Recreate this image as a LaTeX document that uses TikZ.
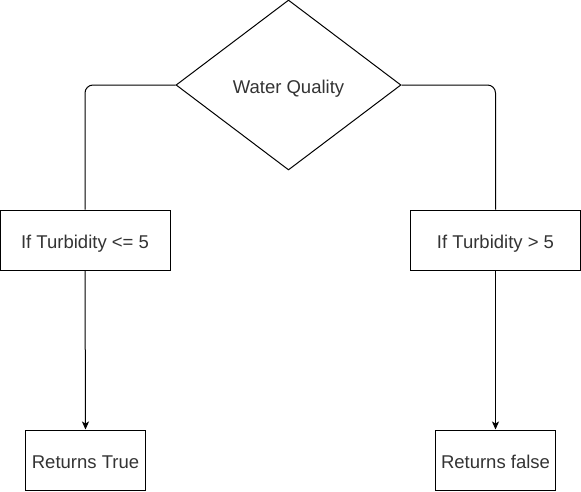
\documentclass[tikz,border=0pt]{standalone}
\usepackage{fontspec}
\setmainfont{Liberation Sans}
\usetikzlibrary{shapes.geometric,arrows.meta}
\begin{document}
\begin{tikzpicture}[x=1pt,y=-1pt,
  label text/.style={font=\fontsize{18.5}{22}\selectfont,text=black!80,text height=16pt,text depth=0pt},
  box/.style={label text,draw=black,line width=1pt,minimum width=170pt,minimum height=60pt,inner sep=0pt},
  smallbox/.style={box,minimum width=120pt},
  decision/.style={label text,draw=black,line width=1pt,diamond,minimum width=225pt,minimum height=170pt,inner sep=0pt},
  link/.style={draw=black,line width=1pt,rounded corners=8pt},
  arrowlink/.style={link,-{Stealth[length=8pt,width=7pt,inset=2pt]}}]
\useasboundingbox (0,0) rectangle (581,491);
\node[decision] (dq) at (288.5,85) {Water Quality};
\node[box] (lb) at (85,240) {If Turbidity <= 5};
\node[box] (rb) at (495.5,240) {If Turbidity > 5};
\node[smallbox] (lt) at (85.5,460) {Returns True};
\node[smallbox] (rt) at (495.5,460) {Returns false};
\draw[link] (dq.west) -| (lb.north);
\draw[link] (dq.east) -| (rb.north);
\draw[arrowlink] (lb.south) -- (lt.north);
\draw[arrowlink] (rb.south) -- (rt.north);
\end{tikzpicture}
\end{document}
